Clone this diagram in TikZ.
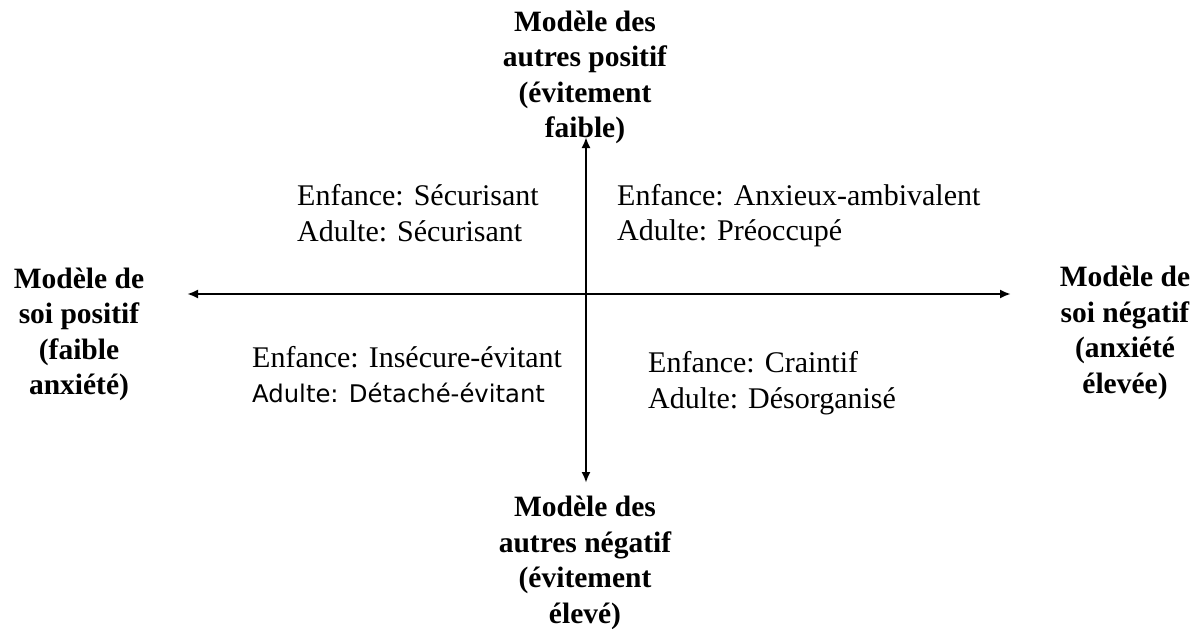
\documentclass[tikz,border=0pt]{standalone}
\usepackage{fontspec}
\setmainfont{Liberation Serif}
\newfontfamily\labelsans{DejaVu Sans}
\usetikzlibrary{arrows.meta}
\tikzset{
  axislabel/.style={font=\bfseries\fontsize{29.5}{35.5}\selectfont, align=center, inner sep=0pt, anchor=base},
  quadtext/.style={font=\fontsize{30}{35.5}\selectfont, align=left, inner sep=0pt, anchor=base west},
  axisline/.style={line width=2.5pt, {Latex[length=11pt,width=9pt]}-{Latex[length=11pt,width=9pt]}}
}
\begin{document}
\begin{tikzpicture}[x=1pt,y=-1pt]
\useasboundingbox[fill=white] (0,0) rectangle (1200,629);
% axis end points
\coordinate (L) at (187,294);
\coordinate (R) at (1011,294);
\coordinate (T) at (586,137);
\coordinate (B) at (586,483);
\draw[axisline] (L) -- (R);
\draw[axisline] (T) -- (B);
% axis labels (anchored at the baseline of their last line)
\node[axislabel] (top) at (585,137.5) {Modèle des\\autres positif\\(évitement\\faible)};
\node[axislabel] (bottom) at (585,623) {Modèle des\\autres négatif\\(évitement\\élevé)};
\node[axislabel] (left) at (79,394.5) {Modèle de\\soi positif\\(faible\\anxiété)};
\node[axislabel] (right) at (1125,393) {Modèle de\\soi négatif\\(anxiété\\élevée)};
% quadrants
\node[quadtext] (tl) at (297,241) {Enfance: Sécurisant\\Adulte: Sécurisant};
\node[quadtext] (tr) at (617,240.5) {Enfance: Anxieux-ambivalent\\Adulte: Préoccupé};
\node[quadtext] (bl) at (252,402.5) {Enfance: Insécure-évitant\\{\labelsans\fontsize{24.3}{35.5}\selectfont Adulte: Détaché-évitant}};
\node[quadtext] (br) at (648,408) {Enfance: Craintif\\Adulte: Désorganisé};
\end{tikzpicture}
\end{document}
